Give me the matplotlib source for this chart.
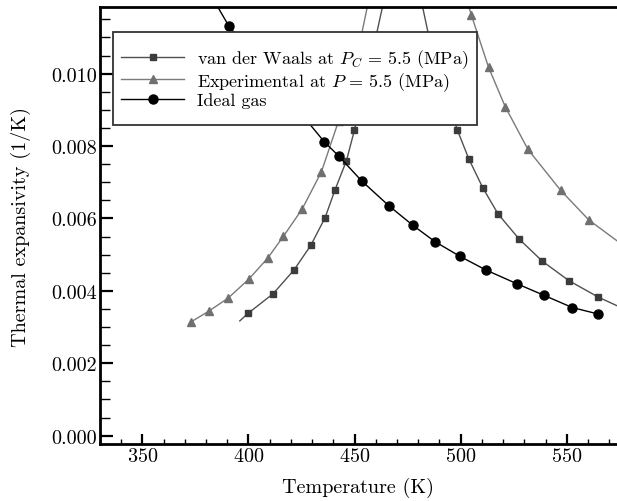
import matplotlib
matplotlib.use("Agg")
import matplotlib.pyplot as plt
from matplotlib.patches import Rectangle
from matplotlib.ticker import MultipleLocator, FormatStrFormatter

plt.rcParams['font.family'] = 'serif'
plt.rcParams['font.serif'] = ['cmr10', 'DejaVu Serif']
plt.rcParams['mathtext.fontset'] = 'cm'
plt.rcParams['axes.formatter.use_mathtext'] = True

# === DATA ===
# ideal gas
ideal_T = [380.0, 390.7, 435.7, 442.6, 453.3, 466.2, 477.5, 487.9, 499.5,
           511.8, 526.4, 539.2, 552.6, 564.9]
ideal_a = [0.0124, 0.01132, 0.00812, 0.00772, 0.00704, 0.00635, 0.00581,
           0.00536, 0.00496, 0.00458, 0.00420, 0.00388, 0.00354, 0.00336]

# van der Waals, below and above the critical temperature
vdw_low_T = [395.9, 399.8, 411.6, 421.5, 429.4, 436.1, 440.8, 446.2, 449.9,
             453.5, 457.2, 460.0, 464.5]
vdw_low_a = [0.00317, 0.00338, 0.00392, 0.00458, 0.00526, 0.00602, 0.00679,
             0.00760, 0.00843, 0.0093, 0.0102, 0.0110, 0.0122]
vdw_high_T = [481.5, 485.5, 489.6, 493.9, 498.4, 503.9, 510.5, 517.7, 527.6,
              538.5, 551.1, 564.8, 578.5]
vdw_high_a = [0.0120, 0.0109, 0.0101, 0.0093, 0.00845, 0.00764, 0.00684,
              0.00612, 0.00543, 0.00482, 0.00428, 0.00383, 0.00346]

# experimental
exp_low_T = [373.1, 381.3, 390.4, 400.1, 409.0, 416.5, 425.3, 434.4, 442.5,
             450.5, 458.0]
exp_low_a = [0.00315, 0.00344, 0.00380, 0.00432, 0.00490, 0.00551, 0.00626,
             0.00729, 0.0087, 0.0103, 0.0124]
exp_high_T = [499.0, 505.1, 513.2, 521.0, 531.7, 547.1, 560.4, 577.0]
exp_high_a = [0.0128, 0.01161, 0.01017, 0.00909, 0.00791, 0.00678, 0.00596,
              0.00524]

labels = [r'van der Waals at $P_C$ = 5.5 (MPa)',
          r'Experimental at $P$ = 5.5 (MPa)',
          'Ideal gas']

# === PLOT ===
fig = plt.figure(figsize=(6.17, 5.02), dpi=100)
ax = fig.add_axes([0.162, 0.1135, 0.838, 0.8705])

vdw_style = dict(color='#505050', lw=1.0, marker='s', ms=5,
                 mfc='#3c3c3c', mec='#3c3c3c')
exp_style = dict(color='#7a7a7a', lw=1.0, marker='^', ms=5.5,
                 mfc='#707070', mec='#707070')

l1, = ax.plot(vdw_low_T, vdw_low_a, markevery=list(range(1, len(vdw_low_T))),
              **vdw_style)
ax.plot(vdw_high_T, vdw_high_a, **vdw_style)
l2, = ax.plot(exp_low_T, exp_low_a, **exp_style)
ax.plot(exp_high_T, exp_high_a, **exp_style)
l3, = ax.plot(ideal_T, ideal_a, color='black', lw=1.0, marker='o', ms=6.5)

ax.set_xlim(330, 573.7)
ax.set_ylim(-0.00023, 0.01184)

ax.xaxis.set_major_locator(MultipleLocator(50))
ax.xaxis.set_minor_locator(MultipleLocator(10))
ax.yaxis.set_major_locator(MultipleLocator(0.002))
ax.yaxis.set_minor_locator(MultipleLocator(0.0005))
ax.yaxis.set_major_formatter(FormatStrFormatter('%.3f'))

ax.tick_params(axis='x', which='major', direction='in', length=7, width=1.6,
               labelsize=14.5, pad=2.5)
ax.tick_params(axis='x', which='minor', direction='in', length=3.5, width=1.0)
ax.tick_params(axis='y', which='major', direction='in', length=9, width=1.6,
               labelsize=14.5, pad=2)
ax.tick_params(axis='y', which='minor', direction='in', length=7, width=1.0)
ax.tick_params(top=False, right=False, which='both')

for side in ['left', 'bottom', 'top']:
    ax.spines[side].set_linewidth(2.0)
ax.spines['right'].set_visible(False)

ax.set_xlabel('Temperature (K)', fontsize=14.5, labelpad=8)
ax.set_ylabel('Thermal expansivity (1/K)', fontsize=14.5, labelpad=15)

# legend box (white, covers the curves behind it)
ax.add_patch(Rectangle((0.025, 0.730), 0.704, 0.213, transform=ax.transAxes,
                       facecolor='white', edgecolor='#333333', lw=1.3,
                       zorder=4))
ax.legend([l1, l2, l3], labels, loc='center left',
          bbox_to_anchor=(0.025, 0.838), borderaxespad=0, borderpad=0.45,
          frameon=False, fontsize=13, handlelength=3.5, handletextpad=0.7,
          labelspacing=0.0)

fig.savefig('out.png', dpi=100)
